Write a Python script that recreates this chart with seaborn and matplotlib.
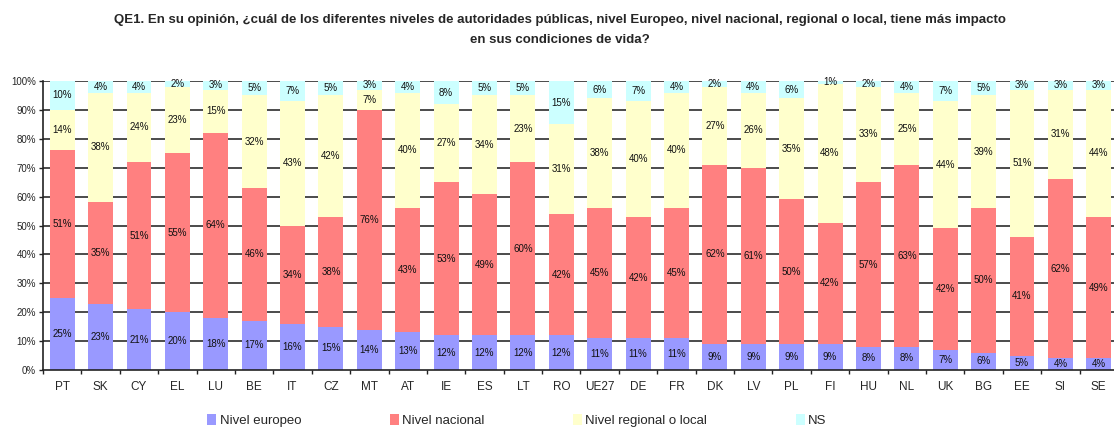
import matplotlib
matplotlib.use("Agg")
import matplotlib.pyplot as plt
import seaborn as sns
import numpy as np
import pandas as pd
from matplotlib.patches import Patch

sns.set_theme(style="white")
plt.rcParams["font.family"] = ["Liberation Sans", "DejaVu Sans"]

countries = ["PT", "SK", "CY", "EL", "LU", "BE", "IT", "CZ", "MT", "AT", "IE", "ES", "LT", "RO",
             "UE27", "DE", "FR", "DK", "LV", "PL", "FI", "HU", "NL", "UK", "BG", "EE", "SI", "SE"]
nivel_europeo = [25, 23, 21, 20, 18, 17, 16, 15, 14, 13, 12, 12, 12, 12,
                 11, 11, 11, 9, 9, 9, 9, 8, 8, 7, 6, 5, 4, 4]
nivel_nacional = [51, 35, 51, 55, 64, 46, 34, 38, 76, 43, 53, 49, 60, 42,
                  45, 42, 45, 62, 61, 50, 42, 57, 63, 42, 50, 41, 62, 49]
nivel_regional = [14, 38, 24, 23, 15, 32, 43, 42, 7, 40, 27, 34, 23, 31,
                  38, 40, 40, 27, 26, 35, 48, 33, 25, 44, 39, 51, 31, 44]
ns = [10, 4, 4, 2, 3, 5, 7, 5, 3, 4, 8, 5, 5, 15,
      6, 7, 4, 2, 4, 6, 1, 2, 4, 7, 5, 3, 3, 3]

series_names = ["Nivel europeo", "Nivel nacional", "Nivel regional o local", "NS"]
series_vals = [nivel_europeo, nivel_nacional, nivel_regional, ns]
colors = ["#9999FF", "#FF8080", "#FFFFCC", "#CCFFFF"]

df = pd.DataFrame({"pais": countries})
for name, vals in zip(series_names, series_vals):
    df[name] = vals
cum = df[series_names].cumsum(axis=1)

fig = plt.figure(figsize=(11.14, 4.28), dpi=100)
ax = fig.add_axes([43 / 1114, 58 / 428, (1118 - 43) / 1114, 289 / 428])

# horizontal grid behind the bars
for v in range(10, 101, 10):
    ax.axhline(v, color="#1a1a1a", lw=1.1, zorder=0)

# stacked bars drawn as overlaid cumulative totals, top segment first
for i in range(len(series_names) - 1, -1, -1):
    sns.barplot(x=df["pais"], y=cum[series_names[i]], color=colors[i], width=0.65,
                saturation=1, ax=ax, zorder=2, order=countries,
                edgecolor="none", linewidth=0)

# segment labels
for j in range(len(countries)):
    base = 0
    for i, vals in enumerate(series_vals):
        v = vals[j]
        ax.text(j, base + v / 2, f"{v}%", ha="center", va="center",
                fontsize=7, color="#111111", zorder=3)
        base += v

ax.set_ylim(0, 100)
ax.set_xlim(-0.5, len(countries) - 0.5)
ax.set_yticks(range(0, 101, 10))
ax.set_yticklabels([f"{v}%" for v in range(0, 101, 10)], fontsize=7)
ax.set_xticks(range(len(countries)))
ax.set_xticklabels(countries, fontsize=8.5)
ax.set_xlabel("")
ax.set_ylabel("")
ax.tick_params(axis="x", length=0, pad=8)
ax.tick_params(axis="y", length=3, width=1, color="#222222", pad=2, direction="out", left=True)
ax.set_xticks(np.arange(-0.5, len(countries), 1), minor=True)
ax.tick_params(axis="x", which="minor", length=3, width=1, color="#222222", bottom=True)

for side in ["top", "right"]:
    ax.spines[side].set_visible(False)
for side in ["left", "bottom"]:
    ax.spines[side].set_color("#222222")
    ax.spines[side].set_linewidth(1.2)

fig.text(0.503, 0.930, "QE1. En su opinión, ¿cuál de los diferentes niveles de autoridades públicas, nivel Europeo, nivel nacional, regional o local, tiene más impacto\nen sus condiciones de vida?",
         ha="center", va="center", fontsize=9.5, fontweight="bold", linespacing=1.9)

handles = [Patch(facecolor=c, edgecolor="none") for c in colors]
fig.legend(handles, series_names, loc="center", bbox_to_anchor=(0.464, 0.018), ncol=4,
           frameon=False, fontsize=9.5, handlelength=0.7, handleheight=0.9,
           handletextpad=0.25, columnspacing=6.7, borderpad=0)

fig.savefig("out.png", dpi=100)
